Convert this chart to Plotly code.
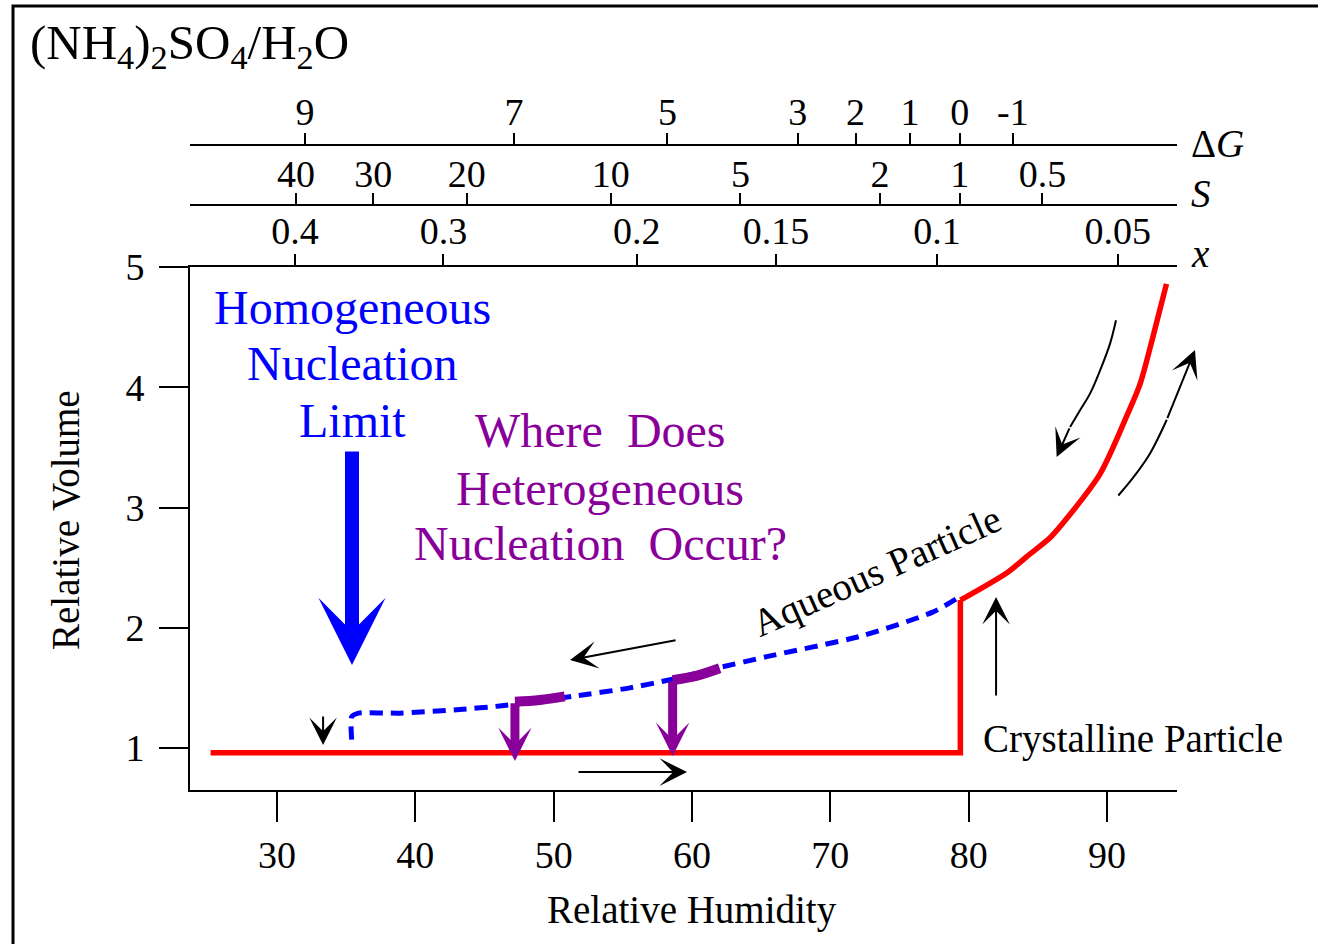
import plotly.graph_objects as go

# ---------------- data ----------------
rh_ticks = [30, 40, 50, 60, 70, 80, 90]
vol_ticks = [1, 2, 3, 4, 5]

# secondary scales: label and the relative humidity where it sits
x_tick_labels = ["0.4", "0.3", "0.2", "0.15", "0.1", "0.05"]
x_tick_rh = [31.30, 42.03, 56.00, 66.07, 77.71, 90.77]
s_tick_labels = ["40", "30", "20", "10", "5", "2", "1", "0.5"]
s_tick_rh = [31.37, 36.96, 43.71, 54.12, 63.50, 73.59, 79.35, 85.33]
dg_tick_labels = ["9", "7", "5", "3", "2", "1", "0", "-1"]
dg_tick_rh = [32.02, 47.13, 58.22, 67.64, 71.82, 75.75, 79.35, 83.19]

# crystalline branch + deliquescence step (red)
crystal_rh = [25.2, 79.4, 79.4]
crystal_vol = [0.96, 0.96, 2.23]
# aqueous growth above the deliquescence point (red)
growth_rh = [79.4, 82.8, 84.4, 85.9, 87.1, 89.5, 91.5, 92.4, 93.3, 94.3]
growth_vol = [2.23, 2.46, 2.61, 2.75, 2.91, 3.28, 3.78, 4.03, 4.41, 4.86]

# metastable aqueous branch (blue dashed)
aqueous_rh = [35.4, 35.4, 35.9, 38.9, 43.2, 46.1, 51.4, 55.5, 58.5, 62.0, 65.4, 72.2, 77.4, 79.4]
aqueous_vol = [1.07, 1.26, 1.29, 1.29, 1.32, 1.35, 1.43, 1.50, 1.57, 1.67, 1.76, 1.93, 2.13, 2.26]

# heterogeneous nucleation windows (purple)
het1_rh = [47.2, 49.0, 50.8]
het1_vol = [1.385, 1.40, 1.43]
het2_rh = [58.6, 60.3, 62.0]
het2_vol = [1.565, 1.60, 1.663]

# curved process arrows near the deliquescence branch
curve_down_rh = [90.65, 90.22, 89.50, 88.77, 88.05, 87.33]
curve_down_vol = [4.557, 4.363, 4.141, 3.947, 3.809, 3.67]
curve_up_rh = [90.82, 91.90, 93.11, 94.32]
curve_up_vol = [3.10, 3.25, 3.45, 3.73]

# straight arrows: (tail_rh, tail_vol, tip_rh, tip_vol)
black_arrows = [
    (33.33, 1.274, 33.33, 1.025),
    (58.92, 1.898, 51.18, 1.732),
    (51.69, 0.80, 59.64, 0.80),
    (81.98, 1.424, 81.98, 2.256),
    (87.33, 3.67, 86.36, 3.42),
    (94.32, 3.73, 96.36, 4.31),
]
purple_arrows = [
    (47.2, 1.385, 47.2, 0.892),
    (58.6, 1.565, 58.6, 0.933),
]
blue_arrow = (35.42, 3.478, 35.42, 1.69)

# ---------------- layout geometry ----------------
W, H = 1318, 944
ML, MR, MT, MB = 190, 141, 100, 154
PW, PH = W - ML - MR, H - MT - MB
FONT = "Liberation Serif, Times New Roman, serif"
BLUE, RED, PURPLE = "#0000ff", "#ff0000", "#880099"


def pxx(px):
    return (px - ML) / PW


def pyy(py):
    return (H - MB - py) / PH


ytop = pyy(267)
xr = [23.71, 95.06]

fig = go.Figure()
fig.add_trace(go.Scatter(x=crystal_rh, y=crystal_vol, mode="lines",
                         line=dict(color=RED, width=5.5), hoverinfo="skip"))
fig.add_trace(go.Scatter(x=growth_rh, y=growth_vol, mode="lines",
                         line=dict(color=RED, width=5.5, shape="spline", smoothing=0.8),
                         hoverinfo="skip"))
fig.add_trace(go.Scatter(x=aqueous_rh, y=aqueous_vol, mode="lines",
                         line=dict(color=BLUE, width=5, dash="13px,8px", shape="spline",
                                   smoothing=0.6),
                         hoverinfo="skip"))
for hx, hy in [(het1_rh, het1_vol), (het2_rh, het2_vol)]:
    fig.add_trace(go.Scatter(x=hx, y=hy, mode="lines",
                             line=dict(color=PURPLE, width=10, shape="spline"),
                             hoverinfo="skip"))
for cx, cy in [(curve_down_rh, curve_down_vol), (curve_up_rh, curve_up_vol)]:
    fig.add_trace(go.Scatter(x=cx, y=cy, mode="lines",
                             line=dict(color="black", width=2, shape="spline", smoothing=1),
                             hoverinfo="skip"))

# carrier traces so that the three top scales are drawn
for ax_id, vals in [("x2", x_tick_rh), ("x3", s_tick_rh), ("x4", dg_tick_rh)]:
    fig.add_trace(go.Scatter(x=vals, y=[None] * len(vals), xaxis=ax_id, yaxis="y",
                             mode="markers", marker=dict(opacity=0), hoverinfo="skip"))

axis_common = dict(showgrid=False, zeroline=False, showline=True, linecolor="black",
                   linewidth=2, ticks="outside", tickcolor="black", tickwidth=2,
                   tickfont=dict(size=38, color="black", family=FONT))

top_common = dict(axis_common, overlaying="x", side="top", range=xr, ticklen=11,
                  tickmode="array")

fig.update_layout(
    width=W, height=H,
    margin=dict(l=ML, r=MR, t=MT, b=MB, pad=0),
    paper_bgcolor="white", plot_bgcolor="white",
    showlegend=False,
    font=dict(family=FONT, size=38, color="black"),
    xaxis=dict(axis_common, domain=[0, 1], range=xr, tickvals=rh_ticks, ticklen=30,
               anchor="y"),
    yaxis=dict(axis_common, domain=[0, ytop], range=[0.651, 5.0], tickvals=vol_ticks,
               ticklen=29, ticklabelstandoff=7, anchor="x"),
    xaxis2=dict(top_common, anchor="y", tickvals=x_tick_rh, ticktext=x_tick_labels,
                ticklabelstandoff=-5),
    xaxis3=dict(top_common, anchor="free", position=pyy(205), tickvals=s_tick_rh,
                ticktext=s_tick_labels, ticklabelstandoff=-9),
    xaxis4=dict(top_common, anchor="free", position=pyy(145), tickvals=dg_tick_rh,
                ticktext=dg_tick_labels, ticklabelstandoff=-7),
)

ann = []


def arrow(t, color, width, size):
    ann.append(dict(x=t[2], y=t[3], ax=t[0], ay=t[1], xref="x", yref="y",
                    axref="x", ayref="y", text="", showarrow=True, arrowhead=3,
                    arrowwidth=width, arrowsize=size, arrowcolor=color, standoff=0))


for a in black_arrows:
    arrow(a, "black", 2, 2.3)
for a in purple_arrows:
    arrow(a, PURPLE, 9, 0.62)
arrow(blue_arrow, BLUE, 14, 0.8)


def text(t, x, y, color="black", size=39, angle=0, xref="x", yref="y", xanchor="center"):
    ann.append(dict(x=x, y=y, xref=xref, yref=yref, text=t, showarrow=False,
                    textangle=angle, xanchor=xanchor, yanchor="middle",
                    font=dict(family=FONT, size=size, color=color)))


text("Homogeneous", 35.49, 4.66, BLUE, 48)
text("Nucleation", 35.49, 4.20, BLUE, 48)
text("Limit", 35.49, 3.725, BLUE, 48)
text("Where\u00a0 Does", 53.35, 3.64, PURPLE, 48)
text("Heterogeneous", 53.35, 3.16, PURPLE, 48)
text("Nucleation\u00a0 Occur?", 53.35, 2.70, PURPLE, 48)
text("Aqueous Particle", 73.37, 2.47, angle=-24)
text("Crystalline Particle", 91.88, 1.075)

text("(NH<sub>4</sub>)<sub>2</sub>SO<sub>4</sub>/H<sub>2</sub>O", pxx(28), pyy(45),
     size=49, xref="paper", yref="paper", xanchor="left")
text("Δ<i>G</i>", pxx(1189), pyy(143), xref="paper", yref="paper", xanchor="left")
text("<i>S</i>", pxx(1189), pyy(193), xref="paper", yref="paper", xanchor="left")
text("<i>x</i>", pxx(1189), pyy(253), xref="paper", yref="paper", xanchor="left")
text("Relative Volume", pxx(65), pyy(520), angle=-90, xref="paper", yref="paper")
text("Relative Humidity", pxx(692), pyy(910), xref="paper", yref="paper")

fig.update_layout(annotations=ann)

fig.add_shape(type="rect", xref="paper", yref="paper",
              x0=pxx(13), y0=pyy(H + 50), x1=pxx(W + 50), y1=pyy(6),
              line=dict(color="black", width=3), fillcolor="rgba(0,0,0,0)", layer="above")

fig.write_html("out.html")
